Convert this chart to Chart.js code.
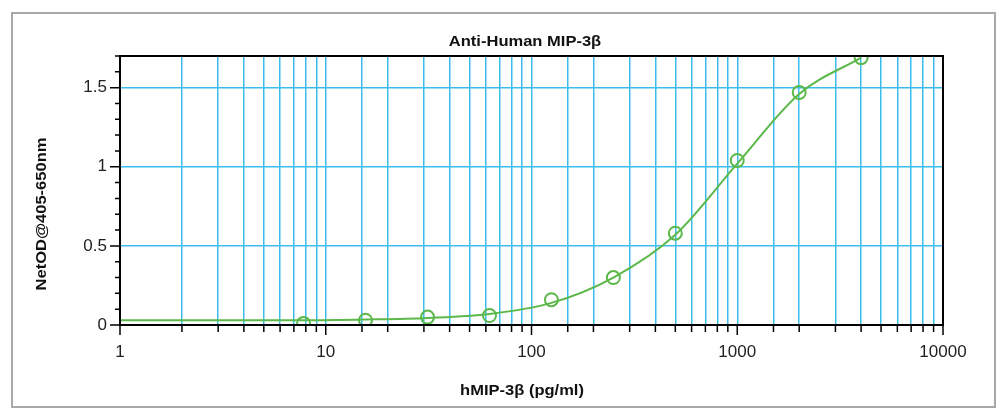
<!DOCTYPE html>
<html>
<head>
<meta charset="utf-8">
<script src="https://cdn.jsdelivr.net/npm/chart.js@4.4.1/dist/chart.umd.min.js"></script>
<style>
  body { margin: 0; background: #fff; }
  #wrap { width: 1001px; height: 409px; position: relative; }
</style>
</head>
<body>
<div id="wrap"><canvas id="curveChart" width="1001" height="409"></canvas></div>
<script>
// standard concentrations (pg/ml) and measured OD
var concentrations = [7.8, 15.6, 31.25, 62.5, 125, 250, 500, 1000, 2000, 4000];
var netOD          = [0.01, 0.03, 0.05, 0.06, 0.16, 0.30, 0.58, 1.04, 1.47, 1.69];

// fitted curve
var curveX = [1, 3, 7.8, 15.6, 31.25, 62.5, 125, 250, 500, 1000, 2000, 4000];
var curveY = [0.03, 0.03, 0.03, 0.035, 0.045, 0.07, 0.14, 0.30, 0.57, 1.02, 1.46, 1.69];

var yTickLabels = [0, 0.5, 1, 1.5];
var xTickLabels = [1, 10, 100, 1000, 10000];

var chartTitle = 'Anti-Human MIP-3\u03B2';
var xTitle = 'hMIP-3\u03B2 (pg/ml)';
var yTitle = 'NetOD@405-650nm';

var gridBlue = '#38bdec';
var green = '#5cb84a';

function isLabelY(v) {
  return yTickLabels.some(function (t) { return Math.abs(t - v) < 1e-6; });
}
function isLabelX(v) {
  return xTickLabels.some(function (t) { return Math.abs(t - v) < 1e-6; });
}

// bold titles, a bit wider than plain Arial
function wideText(ctx, txt, x, y, rot) {
  ctx.save();
  ctx.translate(x, y);
  if (rot) ctx.rotate(rot);
  ctx.scale(1.18, 1);
  ctx.fillText(txt, 0, 0);
  ctx.restore();
}

var decorPlugin = {
  id: 'decor',
  beforeDraw: function (chart) {
    var ctx = chart.ctx;
    ctx.save();
    ctx.strokeStyle = '#a8a8a8';
    ctx.lineWidth = 2;
    ctx.strokeRect(12, 13, 983, 394);
    ctx.restore();
  },
  afterDraw: function (chart) {
    var ctx = chart.ctx, a = chart.chartArea;
    var xs = chart.scales.x, ys = chart.scales.y;
    ctx.save();
    // frame
    ctx.strokeStyle = '#000';
    ctx.lineWidth = 2;
    ctx.strokeRect(a.left, a.top, a.right - a.left, a.bottom - a.top);
    // tick marks
    ctx.lineWidth = 1.5;
    ctx.beginPath();
    xs.ticks.forEach(function (t) {
      var px = xs.getPixelForValue(t.value);
      ctx.moveTo(px, a.bottom);
      ctx.lineTo(px, a.bottom + (isLabelX(t.value) ? 10 : 7));
    });
    ys.ticks.forEach(function (t) {
      var py = ys.getPixelForValue(t.value);
      ctx.moveTo(a.left, py);
      ctx.lineTo(a.left - (isLabelY(t.value) ? 10 : 5), py);
    });
    ctx.stroke();
    // titles
    ctx.fillStyle = '#111';
    ctx.textAlign = 'center';
    ctx.textBaseline = 'middle';
    ctx.font = 'bold 14px "Liberation Sans", Arial, sans-serif';
    wideText(ctx, chartTitle, 525, 42, 0);
    wideText(ctx, xTitle, 522, 391, 0);
    wideText(ctx, yTitle, 42, 214, -Math.PI / 2);
    ctx.restore();
  }
};

var curvePoints = curveX.map(function (x, i) { return { x: x, y: curveY[i] }; });
var stdPoints = concentrations.map(function (x, i) { return { x: x, y: netOD[i] }; });

var tickFont = { size: 17, family: '"Liberation Sans", Arial, sans-serif' };

new Chart(document.getElementById('curveChart').getContext('2d'), {
  type: 'scatter',
  data: {
    datasets: [
      {
        data: curvePoints,
        showLine: true,
        borderColor: green,
        borderWidth: 2,
        pointRadius: 0,
        cubicInterpolationMode: 'monotone',
        fill: false
      },
      {
        data: stdPoints,
        showLine: false,
        borderColor: green,
        backgroundColor: 'rgba(0,0,0,0)',
        borderWidth: 2,
        pointRadius: 6.5
      }
    ]
  },
  options: {
    responsive: false,
    animation: false,
    layout: { padding: { left: 0, right: 58, top: 56, bottom: 0 } },
    plugins: { legend: { display: false }, title: { display: false }, tooltip: { enabled: false } },
    scales: {
      x: {
        type: 'logarithmic',
        min: 1,
        max: 10000,
        afterFit: function (s) { s.height = 84; },
        border: { display: false },
        grid: {
          drawTicks: false,
          lineWidth: 1.5,
          color: function (c) {
            var v = c.tick && c.tick.value;
            return (v === 1 || v === 10000) ? 'rgba(0,0,0,0)' : gridBlue;
          }
        },
        ticks: {
          autoSkip: false,
          maxRotation: 0,
          padding: 17,
          color: '#222',
          font: tickFont,
          callback: function (v) { return isLabelX(v) ? String(v) : ''; }
        }
      },
      y: {
        min: 0,
        max: 1.7,
        afterFit: function (s) { s.width = 120; },
        border: { display: false },
        grid: {
          drawTicks: false,
          lineWidth: 1.5,
          color: function (c) {
            var v = c.tick && c.tick.value;
            return (v > 0.01 && isLabelY(v)) ? gridBlue : 'rgba(0,0,0,0)';
          }
        },
        ticks: {
          stepSize: 0.1,
          autoSkip: false,
          padding: 13,
          color: '#222',
          font: tickFont,
          callback: function (v) { return isLabelY(v) ? String(Math.round(v * 10) / 10) : ''; }
        }
      }
    }
  },
  plugins: [decorPlugin]
});
</script>
</body>
</html>
